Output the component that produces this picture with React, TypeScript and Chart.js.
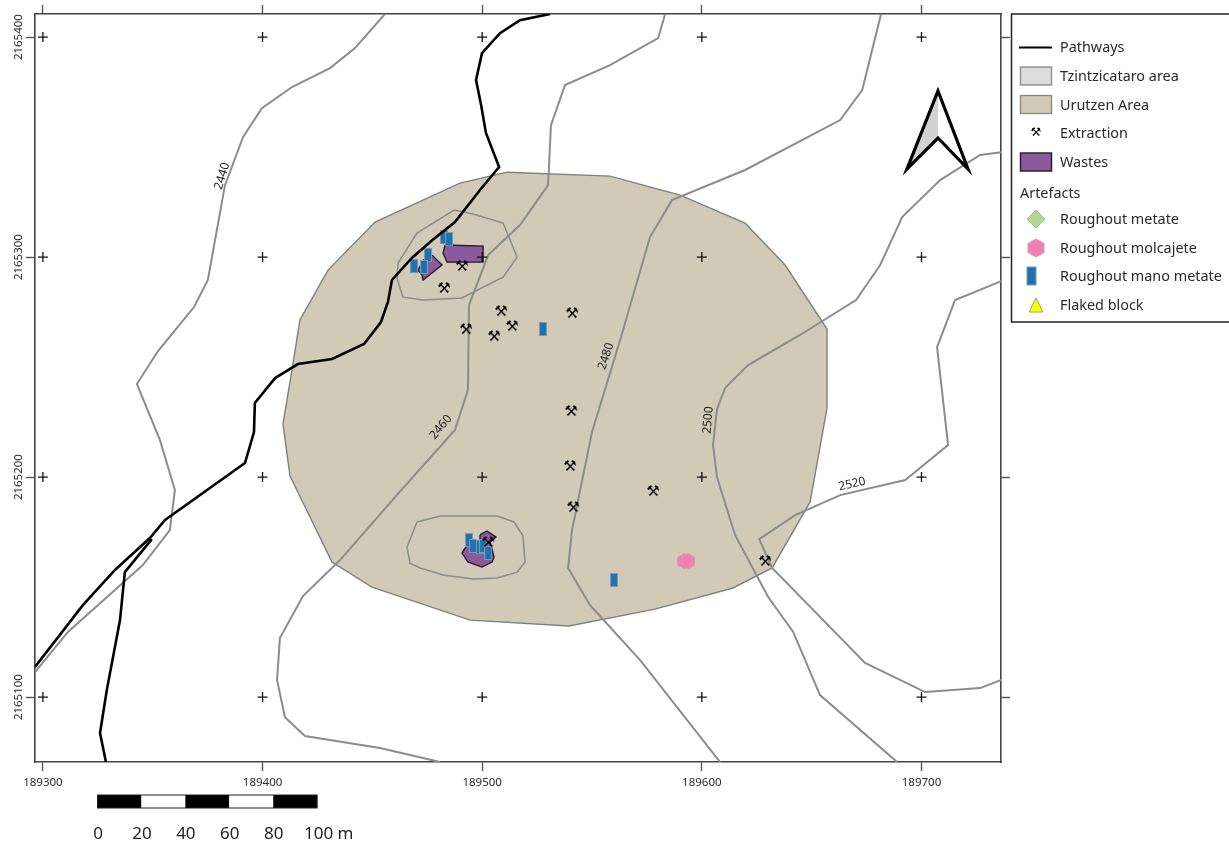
import React, { useEffect, useRef } from "react";
import { Chart, registerables } from "chart.js";

Chart.register(...registerables);

type P = [number, number];

const xMin = 189296.4;
const xMax = 189736.2;
const yMin = 2165070.5;
const yMax = 2165410.5;
const gridEastings = [189300, 189400, 189500, 189600, 189700];
const gridNorthings = [2165100, 2165200, 2165300, 2165400];

const urutzenArea: P[] = [
  [189511.3, 2165338.6], [189558.2, 2165336.8], [189590.1, 2165328.2], [189619.7, 2165315.5],
  [189637.9, 2165296.4], [189657, 2165267.3], [189657, 2165231.4], [189649.3, 2165188.7],
  [189632, 2165158.7], [189614.2, 2165149.6], [189578.7, 2165140], [189539.5, 2165132.3],
  [189494.5, 2165135], [189449.8, 2165150], [189431.6, 2165161.4], [189412.5, 2165200.5],
  [189409.3, 2165224.1], [189413.4, 2165248.6], [189417, 2165271.4], [189429.8, 2165294.1],
  [189451.2, 2165315.9], [189489.9, 2165333.6], [189511.3, 2165338.6],
];

const contour2440: P[] = [
  [189455.7, 2165410.5], [189442.1, 2165395], [189430.7, 2165385.9], [189413.4, 2165377.3],
  [189399.7, 2165367.7], [189391.1, 2165354.5], [189382.9, 2165332.7], [189375.1, 2165289.6],
  [189368.8, 2165277.3], [189352.4, 2165257.3], [189342.8, 2165242.3], [189353.3, 2165216.8],
  [189360.1, 2165194.1], [189357.8, 2165175.9], [189345.5, 2165160], [189311.4, 2165129.6],
  [189296.4, 2165111.4],
];
const contour2460: P[] = [
  [189583.3, 2165410.5], [189580.1, 2165399.5], [189558.2, 2165387.3], [189537.7, 2165378.2],
  [189531.3, 2165360], [189530, 2165332.7], [189517.2, 2165314.6], [189502.7, 2165300.9],
  [189494, 2165278.2], [189493.5, 2165239.6], [189487.6, 2165221.4], [189460.3, 2165190.9],
  [189435.3, 2165162.3], [189418.4, 2165145.9], [189407.9, 2165126.8], [189406.6, 2165107.8],
  [189410.2, 2165090.9], [189419.3, 2165082.3], [189453.5, 2165076.9], [189480.8, 2165070.5],
];
const contour2480: P[] = [
  [189681.6, 2165410.5], [189673, 2165375.9], [189663, 2165362.3], [189619.7, 2165339.6],
  [189586.4, 2165325.9], [189576.4, 2165309.1], [189562.8, 2165262.3], [189550, 2165220.5],
  [189540.9, 2165175.9], [189539.1, 2165158.7], [189549.1, 2165141.8], [189571.9, 2165116.8],
  [189608.3, 2165070.5],
];
const contour2500: P[] = [
  [189736.3, 2165347.7], [189726.7, 2165346.4], [189708.5, 2165335], [189691.2, 2165318.2],
  [189681.2, 2165296.4], [189670.2, 2165280.5], [189644.7, 2165264.6], [189621.1, 2165250.9],
  [189610.6, 2165240.5], [189606.9, 2165230.9], [189605.1, 2165214.6], [189606.9, 2165200],
  [189615.1, 2165173.7], [189630.2, 2165145.5], [189641.6, 2165129.6], [189653.8, 2165100.9],
  [189688.9, 2165070.5],
];
const contour2520: P[] = [
  [189736.3, 2165289.1], [189715.3, 2165280.5], [189707.1, 2165259.1], [189712.1, 2165214.6],
  [189692.6, 2165198.7], [189663, 2165191.8], [189642.5, 2165182.7], [189626.1, 2165171.8],
  [189632, 2165158.7], [189674.3, 2165115.5], [189701.7, 2165102.3], [189726.7, 2165104.1],
  [189736.3, 2165107.8],
];
const closedContourNorth: P[] = [
  [189487.2, 2165321.4], [189495.8, 2165319.6], [189509.5, 2165315.5], [189515.9, 2165300],
  [189509.5, 2165290.9], [189490.8, 2165281.4], [189473.1, 2165280.5], [189463.9, 2165281.8],
  [189461.2, 2165290.5], [189461.7, 2165297.3], [189470.3, 2165310.9], [189487.2, 2165321.4],
];
const closedContourSouth: P[] = [
  [189470.3, 2165179.6], [189480.8, 2165182.3], [189506.8, 2165182.3], [189514.5, 2165179.6],
  [189518.6, 2165173.2], [189519.5, 2165161.4], [189515.9, 2165156.8], [189506.8, 2165154.1],
  [189495.8, 2165153.7], [189482.2, 2165155.5], [189471.7, 2165158.7], [189467.1, 2165160.9],
  [189465.8, 2165168.2], [189470.3, 2165179.6],
];

const pathwayMain: P[] = [
  [189530.9, 2165410.5], [189517.2, 2165407.7], [189508.1, 2165401.8], [189499.9, 2165392.7],
  [189497.2, 2165380.5], [189499.5, 2165369.1], [189501.7, 2165356.4], [189507.7, 2165340.9],
  [189499, 2165330.5], [189487.6, 2165315.9], [189477.2, 2165307.7], [189468, 2165299.6],
  [189458.9, 2165289.6], [189457.1, 2165279.6], [189453.9, 2165270.5], [189446.2, 2165260.5],
  [189431.6, 2165253.7], [189416.1, 2165251.4], [189405.7, 2165245], [189396.5, 2165233.7],
  [189396.1, 2165220.5], [189392, 2165206.4], [189355.6, 2165180.5], [189348.7, 2165172.3],
  [189332.8, 2165157.8], [189318.2, 2165141.8], [189296.4, 2165113.7],
];
const pathwayBranch: P[] = [
  [189349.6, 2165171.8], [189337.3, 2165156.8], [189335.1, 2165135], [189329.1, 2165103.2],
  [189326, 2165083.7], [189328.7, 2165070.5],
];

const wastesEast: P[] = [
  [189483.1, 2165305.5], [189500.4, 2165305], [189500.4, 2165297.7], [189484, 2165297.7],
  [189482.2, 2165301.8], [189483.1, 2165305.5],
];
const wastesWest: P[] = [
  [189477.2, 2165300.9], [189481.7, 2165296.4], [189473.1, 2165289.6], [189472.6, 2165291.8],
  [189470.8, 2165294.1], [189473.1, 2165298.6], [189477.2, 2165300.9],
];
const wastesSouth: P[] = [
  [189499, 2165173.7], [189502.2, 2165175.5], [189506.3, 2165172.7], [189503.6, 2165170.5],
  [189505.4, 2165163.7], [189504.5, 2165161.4], [189499.9, 2165159.1], [189493.5, 2165161.4],
  [189490.8, 2165165.5], [189493.1, 2165169.1], [189499, 2165170], [189499, 2165173.7],
];

const extractionPoints: P[] = [
  [189490.8, 2165295.5], [189482.6, 2165285.5], [189508.6, 2165275], [189513.6, 2165268.2],
  [189492.6, 2165266.8], [189505.4, 2165263.6], [189540.9, 2165274.1], [189540.5, 2165229.6],
  [189540, 2165204.6], [189541.4, 2165185.9], [189577.8, 2165193.2], [189628.8, 2165161.4],
  [189502.7, 2165170],
];
const manoMetatePoints: P[] = [
  [189527.7, 2165267.3], [189560, 2165153.2], [189482.6, 2165309.1], [189484.9, 2165308.2],
  [189475.3, 2165300.9], [189469, 2165295.9], [189473.5, 2165295.5], [189494, 2165171.4],
  [189495.8, 2165168.7], [189499, 2165168.2], [189500.4, 2165168.7], [189502.7, 2165165.5],
];
const molcajetePoints: P[] = [[189591.9, 2165161.8], [189593.7, 2165161.8]];

const contourLabels = ["2440", "2460", "2480", "2500", "2520"];
const contourLabelX = [189381.6, 189481.2, 189556.4, 189602.9, 189668.4];
const contourLabelY = [2165336.8, 2165222.7, 2165255, 2165225.9, 2165196.8];
const contourLabelAngle = [-73, -50, -72, -85, -13];

const scaleBarLabels = ["0", "20", "40", "60", "80"];
const scaleBarStep = 20;
const scaleBarEnd = "100 m";

const legendLabels = [
  "Pathways", "Tzintzicataro area", "Urutzen Area", "Extraction", "Wastes",
  "Roughout metate", "Roughout molcajete", "Roughout mano metate", "Flaked block",
];
const legendHeading = "Artefacts";

const FONT = '"Noto Sans"';
const toXY = (pts: P[]) => pts.map(([x, y]) => ({ x, y }));

function makeCanvas(w: number, h: number, paint: (c: CanvasRenderingContext2D) => void) {
  const cv = document.createElement("canvas");
  cv.width = w;
  cv.height = h;
  const c = cv.getContext("2d")!;
  paint(c);
  return cv;
}

function hexagon(c: CanvasRenderingContext2D, cx: number, cy: number, rx: number, ry: number) {
  c.beginPath();
  c.moveTo(cx, cy - ry);
  c.lineTo(cx + rx, cy - ry / 2);
  c.lineTo(cx + rx, cy + ry / 2);
  c.lineTo(cx, cy + ry);
  c.lineTo(cx - rx, cy + ry / 2);
  c.lineTo(cx - rx, cy - ry / 2);
  c.closePath();
}

const furniture = {
  id: "furniture",
  afterDraw(chart: any) {
    const { ctx, scales } = chart;
    const sx = scales.x;
    const sy = scales.y;
    ctx.save();
    // contour labels
    ctx.fillStyle = "#222";
    ctx.font = `12px ${FONT}`;
    ctx.textAlign = "center";
    ctx.textBaseline = "middle";
    contourLabels.forEach((t, i) => {
      ctx.save();
      ctx.translate(sx.getPixelForValue(contourLabelX[i]), sy.getPixelForValue(contourLabelY[i]));
      ctx.rotate((contourLabelAngle[i] * Math.PI) / 180);
      ctx.fillText(t, 0, 0);
      ctx.restore();
    });

    // north arrow
    const ax = 938;
    ctx.beginPath();
    ctx.moveTo(ax, 91);
    ctx.lineTo(907, 169);
    ctx.lineTo(ax, 138);
    ctx.closePath();
    ctx.fillStyle = "#d2d2d2";
    ctx.fill();
    ctx.beginPath();
    ctx.moveTo(ax, 91);
    ctx.lineTo(968, 169);
    ctx.lineTo(ax, 138);
    ctx.closePath();
    ctx.fillStyle = "#ffffff";
    ctx.fill();
    ctx.beginPath();
    ctx.moveTo(ax, 91);
    ctx.lineTo(968, 169);
    ctx.lineTo(ax, 138);
    ctx.lineTo(907, 169);
    ctx.closePath();
    ctx.strokeStyle = "#000";
    ctx.lineWidth = 3.2;
    ctx.lineJoin = "miter";
    ctx.stroke();

    // scale bar
    const barLeft = 97.5;
    const stepPx = sx.getPixelForValue(xMin + scaleBarStep) - sx.getPixelForValue(xMin);
    for (let i = 0; i < 5; i++) {
      ctx.fillStyle = i % 2 === 0 ? "#000" : "#fff";
      ctx.fillRect(barLeft + i * stepPx, 795, stepPx, 13);
    }
    ctx.strokeStyle = "#222";
    ctx.lineWidth = 1;
    ctx.strokeRect(barLeft, 795, 5 * stepPx, 13);
    ctx.fillStyle = "#222";
    ctx.font = `17px ${FONT}`;
    ctx.textAlign = "center";
    scaleBarLabels.forEach((t, i) => ctx.fillText(t, barLeft + 0.5 + i * stepPx, 834));
    ctx.textAlign = "left";
    ctx.fillText(scaleBarEnd, 304, 834);

    // legend
    ctx.fillStyle = "#fff";
    ctx.fillRect(1011.5, 14, 218, 308);
    ctx.strokeStyle = "#222";
    ctx.lineWidth = 1.5;
    ctx.strokeRect(1011.5, 14, 220, 308);
    const rowY = [48, 77, 105.5, 134, 163, 220, 249, 277, 306];
    ctx.font = `14.4px ${FONT}`;
    ctx.fillStyle = "#2a2a2a";
    ctx.textAlign = "left";
    legendLabels.forEach((t, i) => ctx.fillText(t, 1060, rowY[i]));
    ctx.fillText(legendHeading, 1020, 194);

    ctx.strokeStyle = "#000";
    ctx.lineWidth = 2.2;
    ctx.beginPath();
    ctx.moveTo(1019, 47.5);
    ctx.lineTo(1052, 47.5);
    ctx.stroke();
    const swatch = (y: number, fill: string, stroke: string, lw: number) => {
      ctx.fillStyle = fill;
      ctx.fillRect(1020.5, y, 31, 18);
      ctx.strokeStyle = stroke;
      ctx.lineWidth = lw;
      ctx.strokeRect(1020.5, y, 31, 18);
    };
    swatch(67, "#dcdcdc", "#888", 1.3);
    swatch(95.5, "#d2c9b6", "#888", 1.3);
    swatch(153, "#8b5a9e", "#2b2030", 1.5);
    ctx.font = `12px "DejaVu Sans"`;
    ctx.fillStyle = "#000";
    ctx.textAlign = "center";
    ctx.fillText("\u2692", 1036, 133);

    ctx.beginPath();
    ctx.moveTo(1036, 210);
    ctx.lineTo(1045, 219);
    ctx.lineTo(1036, 228);
    ctx.lineTo(1027, 219);
    ctx.closePath();
    ctx.fillStyle = "#b2d98f";
    ctx.fill();
    ctx.strokeStyle = "#a0b890";
    ctx.lineWidth = 1;
    ctx.stroke();

    hexagon(ctx, 1036, 248, 8, 9);
    ctx.fillStyle = "#f77cb0";
    ctx.fill();
    ctx.strokeStyle = "#c9a0b0";
    ctx.stroke();

    ctx.fillStyle = "#1f72b0";
    ctx.fillRect(1027, 267, 9, 18);
    ctx.strokeStyle = "#7a9ab0";
    ctx.strokeRect(1027, 267, 9, 18);

    ctx.beginPath();
    ctx.moveTo(1036, 298);
    ctx.lineTo(1043, 312);
    ctx.lineTo(1029, 312);
    ctx.closePath();
    ctx.fillStyle = "#ffff00";
    ctx.fill();
    ctx.strokeStyle = "#a0a070";
    ctx.stroke();
    ctx.restore();
  },
};

export default function App() {
  const ref = useRef<HTMLCanvasElement | null>(null);

  useEffect(() => {
    document.body.style.margin = "0";
    document.body.style.background = "#fff";
    const hammer = makeCanvas(18, 18, (c) => {
      c.font = `15px "DejaVu Sans"`;
      c.textAlign = "center";
      c.textBaseline = "middle";
      c.fillStyle = "#000";
      c.fillText("\u2692", 9, 9);
    });
    const mano = makeCanvas(8, 14, (c) => {
      c.fillStyle = "#1f72b0";
      c.fillRect(0, 0, 8, 14);
      c.strokeStyle = "#7a9ab0";
      c.strokeRect(0.5, 0.5, 7, 13);
    });
    const hex = makeCanvas(16, 16, (c) => {
      hexagon(c, 8, 8, 6.5, 7.5);
      c.fillStyle = "#f77cb0";
      c.fill();
      c.strokeStyle = "#c9a0b0";
      c.stroke();
    });

    const line = (label: string, data: P[], color: string, width: number, order: number, extra: any = {}) => ({
      label,
      data: toXY(data),
      showLine: true,
      tension: 0,
      borderColor: color,
      borderWidth: width,
      pointRadius: 0,
      order,
      ...extra,
    });
    const points = (label: string, data: P[], style: any, order: number) => ({
      label,
      data: toXY(data),
      showLine: false,
      pointStyle: style,
      pointRadius: 4,
      order,
    });
    const poly = (label: string, data: P[], fill: string, stroke: string, width: number, order: number) =>
      line(label, data, stroke, width, order, { fill: "shape", backgroundColor: fill });

    const crosses: P[] = [];
    gridEastings.forEach((x) => gridNorthings.forEach((y) => crosses.push([x, y])));

    const contourColor = "#8c8c8c";
    const datasets: any[] = [
      {
        label: "Grid",
        data: toXY(crosses),
        showLine: false,
        pointStyle: "cross",
        pointRadius: 5,
        borderColor: "#111",
        borderWidth: 1.3,
        order: 0,
      },
      line("Pathways", pathwayMain, "#000", 2.6, 1),
      line("Pathways branch", pathwayBranch, "#000", 2.6, 1),
      points("Extraction", extractionPoints, hammer, 2),
      points("Roughout mano metate", manoMetatePoints, mano, 3),
      points("Roughout molcajete", molcajetePoints, hex, 4),
      poly("Wastes east", wastesEast, "#8b5a9e", "#241a28", 1.4, 5),
      poly("Wastes west", wastesWest, "#8b5a9e", "#241a28", 1.4, 5),
      poly("Wastes south", wastesSouth, "#8b5a9e", "#241a28", 1.4, 5),
      line("2440", contour2440, contourColor, 2, 6),
      line("2460", contour2460, contourColor, 2, 6),
      line("2480", contour2480, contourColor, 2, 6),
      line("2500", contour2500, contourColor, 2, 6),
      line("2520", contour2520, contourColor, 2, 6),
      line("Closed north", closedContourNorth, contourColor, 1.5, 6),
      line("Closed south", closedContourSouth, contourColor, 1.5, 6),
      poly("Urutzen Area", urutzenArea, "#d2c9b6", "#808080", 1.4, 7),
    ];

    const edge = { display: true, color: "#444", width: 1.6 };
    const grid = { drawOnChartArea: false, drawTicks: true, tickLength: 9, tickColor: "#555", tickWidth: 1.4 };
    const fitW = (w: number) => (s: any) => { s.width = w; };
    const fitH = (h: number) => (s: any) => { s.height = h; };
    const label = (v: any) => String(v);

    const chart = new Chart(ref.current!, {
      type: "scatter",
      data: { datasets },
      plugins: [furniture],
      options: {
        animation: false,
        responsive: false,
        devicePixelRatio: 1,
        layout: { padding: 0 },
        plugins: { legend: { display: false }, tooltip: { enabled: false } },
        scales: {
          x: {
            type: "linear", position: "bottom", min: xMin, max: xMax, border: edge, grid, afterFit: fitH(86),
            ticks: { stepSize: 100, includeBounds: false, autoSkip: false, maxRotation: 0, padding: 5, callback: label,
              color: "#2a2a2a", font: { family: "Noto Sans", size: 11.5 } },
          },
          x2: {
            type: "linear", position: "top", min: xMin, max: xMax, border: edge, grid, afterFit: fitH(14),
            ticks: { stepSize: 100, includeBounds: false, autoSkip: false, display: false },
          },
          y: {
            type: "linear", position: "left", min: yMin, max: yMax, border: edge, grid, afterFit: fitW(35),
            ticks: { stepSize: 100, includeBounds: false, autoSkip: false, minRotation: 90, maxRotation: 90, padding: -16,
              crossAlign: "center", callback: label, color: "#2a2a2a", font: { family: "Noto Sans", size: 11.5 } },
          },
          y2: {
            type: "linear", position: "right", min: yMin, max: yMax, border: edge, grid, afterFit: fitW(228),
            ticks: { stepSize: 100, includeBounds: false, autoSkip: false, display: false },
          },
        },
      },
    } as any);
    return () => chart.destroy();
  }, []);

  return (
    <div style={{ position: "absolute", left: 0, top: 0, width: 1229, height: 848 }}>
      <canvas ref={ref} width={1229} height={848} style={{ display: "block" }} />
    </div>
  );
}
